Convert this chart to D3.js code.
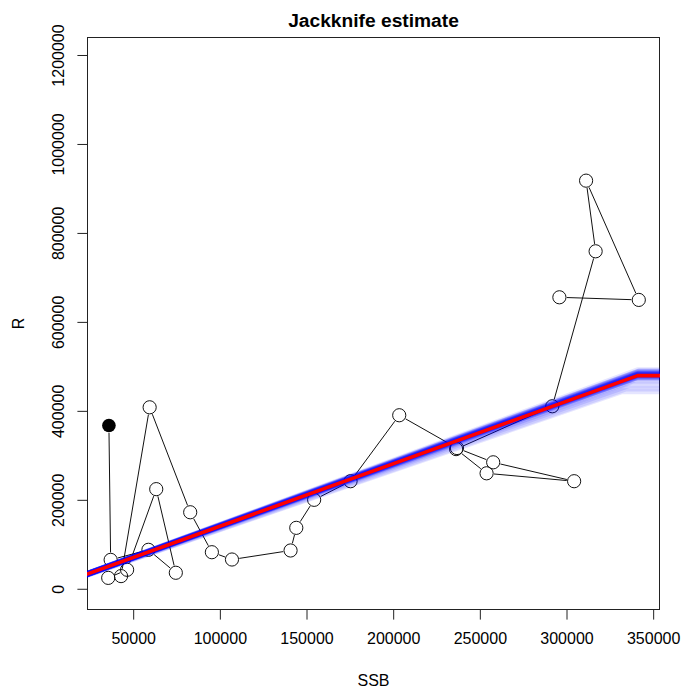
<!DOCTYPE html>
<html>
<head>
<meta charset="utf-8">
<script src="https://cdn.jsdelivr.net/npm/d3@7"></script>
<style>
  html, body { margin: 0; padding: 0; background: #fff; }
  svg { display: block; }
  text { font-family: "Liberation Sans", Arial, sans-serif; fill: #000; }
</style>
</head>
<body>
<svg id="chart" width="682" height="690"></svg>
<script>
// Spawning stock biomass and recruitment, in time order (first year drawn filled)
const ssb = [36000, 37000, 58800, 74600, 63300, 46500, 35600, 43000, 59500, 82900,
             95400, 107000, 140800, 144100, 154400, 175400, 203500, 236800, 257700, 304400,
             253900, 236300, 291800, 316800, 311300, 341700, 295900];
const rec = [367000, 65000, 87600, 36000, 224000, 42700, 24500, 28500, 408000, 172000,
             82200, 65800, 86100, 137000, 200000, 241800, 390100, 316400, 284300, 241800,
             259600, 314000, 410300, 758700, 917500, 649400, 655300];

// Hockey-stick fit to all years: plateau level and breakpoint
const fitLevel = 479300;
const fitBreak = 341000;

// Leave-one-out refits: plateau level and breakpoint of each
const jkLevel = [486000, 482000, 479000, 491000, 484000, 477000, 480000, 488000, 481000,
                 476000, 483000, 478000, 487000, 480000, 485000, 474000, 482000, 489000,
                 479000, 476000, 471000, 483000, 466000, 458000, 450000, 444000, 481000];
const jkBreak = [341000, 341500, 340500, 341000, 342000, 341000, 340000, 341500, 341000,
                 341000, 340500, 341000, 341500, 341000, 341000, 339500, 341000, 342000,
                 341000, 341000, 340000, 341000, 338000, 336000, 334000, 332000, 341000];

const xTicks = [50000, 100000, 150000, 200000, 250000, 300000, 350000];
const yTicks = [0, 200000, 400000, 600000, 800000, 1000000, 1200000];

const svg = d3.select("#chart");
const box = { left: 87, right: 660, top: 37, bottom: 610 };

// axis limits: data range padded by 4% on each side
const xr = d3.extent(ssb);
const xPad = (xr[1] - xr[0]) * 0.04;
const yMax = d3.max(rec) * 1.3;
const yPad = yMax * 0.04;

const x = d3.scaleLinear().domain([xr[0] - xPad, xr[1] + xPad]).range([box.left, box.right]);
const y = d3.scaleLinear().domain([-yPad, yMax + yPad]).range([box.bottom, box.top]);

svg.append("defs").append("clipPath").attr("id", "plotClip")
  .append("rect")
  .attr("x", box.left).attr("y", box.top)
  .attr("width", box.right - box.left).attr("height", box.bottom - box.top);

// x axis
const xAxis = d3.axisBottom(x).tickValues(xTicks).tickSize(9.6).tickPadding(13).tickFormat(d3.format("d"));
const gx = svg.append("g").attr("transform", `translate(0,${box.bottom})`).call(xAxis);
gx.select(".domain").remove();
gx.selectAll("line").attr("stroke", "#222");
gx.selectAll("text").attr("font-size", 16).attr("font-family", "Liberation Sans, Arial, sans-serif").attr("fill", "#111");

// y axis with labels rotated to read upward
const yAxis = d3.axisLeft(y).tickValues(yTicks).tickSize(9.6).tickFormat(d3.format("d"));
const gy = svg.append("g").attr("transform", `translate(${box.left},0)`).call(yAxis);
gy.select(".domain").remove();
gy.selectAll("line").attr("stroke", "#222");
gy.selectAll("text")
  .attr("font-size", 16).attr("font-family", "Liberation Sans, Arial, sans-serif").attr("fill", "#111")
  .attr("x", null).attr("dy", null)
  .attr("text-anchor", "middle")
  .attr("transform", `translate(-23,0) rotate(-90)`);

// plot frame
svg.append("rect")
  .attr("x", box.left + 0.5).attr("y", box.top + 0.5)
  .attr("width", box.right - box.left - 1).attr("height", box.bottom - box.top - 1)
  .attr("fill", "none").attr("stroke", "#222").attr("stroke-width", 1);

// titles
svg.append("text").attr("x", (box.left + box.right) / 2).attr("y", 27)
  .attr("text-anchor", "middle").attr("font-size", 19.2).attr("font-weight", "bold")
  .text("Jackknife estimate");
svg.append("text").attr("x", (box.left + box.right) / 2).attr("y", 686)
  .attr("text-anchor", "middle").attr("font-size", 16).attr("fill", "#111").text("SSB");
svg.append("text").attr("transform", `translate(24,${(box.top + box.bottom) / 2}) rotate(-90)`)
  .attr("text-anchor", "middle").attr("font-size", 16).attr("fill", "#111").text("R");

const plot = svg.append("g").attr("clip-path", "url(#plotClip)");

// time-ordered path with gaps around the points
const pts = ssb.map((s, i) => [x(s), y(rec[i])]);
const rad = 6.6, gap = 7.4;
const segs = [];
for (let i = 1; i < pts.length; i++) {
  const [x1, y1] = pts[i - 1], [x2, y2] = pts[i];
  const dx = x2 - x1, dy = y2 - y1, d = Math.hypot(dx, dy);
  if (d <= 2 * gap) continue;
  const ux = dx / d, uy = dy / d;
  segs.push([x1 + ux * gap, y1 + uy * gap, x2 - ux * gap, y2 - uy * gap]);
}
plot.append("g").selectAll("line").data(segs).join("line")
  .attr("x1", d => d[0]).attr("y1", d => d[1]).attr("x2", d => d[2]).attr("y2", d => d[3])
  .attr("stroke", "#111").attr("stroke-width", 1);

plot.append("g").selectAll("circle").data(pts.slice(1)).join("circle")
  .attr("cx", d => d[0]).attr("cy", d => d[1]).attr("r", rad)
  .attr("fill", "none").attr("stroke", "#111").attr("stroke-width", 1);

plot.append("circle").attr("cx", pts[0][0]).attr("cy", pts[0][1]).attr("r", 6.8).attr("fill", "#000");

// hockey-stick curves
const xd = x.domain();
const hs = (level, brk) => [[0, 0], [brk, level], [xd[1] + 1e5, level]];
const line = d3.line().x(d => x(d[0])).y(d => y(d[1]));

plot.append("g").selectAll("path").data(jkLevel.map((L, i) => hs(L, jkBreak[i]))).join("path")
  .attr("d", line).attr("fill", "none")
  .attr("stroke", "rgba(0,0,255,0.1)").attr("stroke-width", 6)
  .attr("stroke-linejoin", "round");

plot.append("path").attr("d", line(hs(fitLevel, fitBreak)))
  .attr("fill", "none").attr("stroke", "#ff0000").attr("stroke-width", 3.6)
  .attr("stroke-linejoin", "round");
</script>
</body>
</html>
